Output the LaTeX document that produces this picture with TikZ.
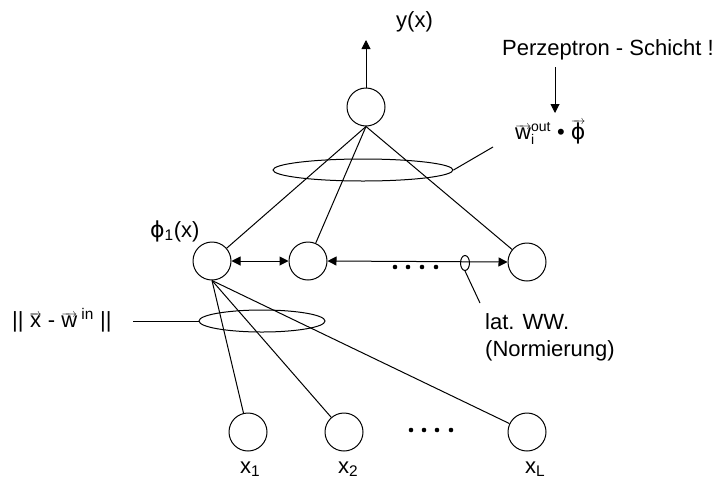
\documentclass[tikz,border=0pt]{standalone}
\usepackage{fontspec}
\setmainfont{Liberation Sans}
\newfontfamily\greekfont{DejaVu Sans}
\usetikzlibrary{arrows.meta,shapes.geometric}

% vector arrow over a text glyph: a small arrow set close above the letter
\newcommand\vecover[1]{\leavevmode\vbox{\offinterlineskip
  \ialign{##\crcr{\fontsize{13}{13}\selectfont\rightarrowfill}\crcr
  \noalign{\kern-2.5pt}\hfil#1\hfil\crcr}}}
% straight phi (circle with vertical stroke)
\newcommand\phisym{{\greekfont\char"03D5}}
% stacked super- and subscript in text size
\newcommand\supsub[2]{$^{\hbox{\fontsize{14}{14}\selectfont #1}}_{\hbox{\fontsize{14}{14}\selectfont #2}}$}

\begin{document}
\begin{tikzpicture}[x=1pt,y=-1pt,
  every node/.style={font=\fontsize{22}{26}\selectfont},
  neuron/.style={circle,draw,line width=1pt,minimum size=38pt,inner sep=0pt},
  ring/.style={ellipse,draw,line width=1pt,inner sep=0pt},
  conn/.style={line width=1pt},
  tipped/.style={line width=1pt,-{Triangle[length=9pt,width=9pt]}},
  bitipped/.style={line width=1pt,{Triangle[length=9pt,width=9pt]}-{Triangle[length=9pt,width=9pt]}},
  txt/.style={inner sep=0pt,anchor=base west}]

\useasboundingbox (0,0) rectangle (725,480);

% neurons
\node[neuron] (out) at (366,107) {};
\node[neuron] (h1) at (212,261) {};
\node[neuron] (h2) at (308,261) {};
\node[neuron] (h3) at (527,262) {};
\node[neuron] (in1) at (248,432) {};
\node[neuron] (in2) at (344,432) {};
\node[neuron] (inL) at (527,432) {};

% weight groupings
\node[ring,minimum width=180pt,minimum height=22pt] (wout) at (363,170) {};
\node[ring,minimum width=126pt,minimum height=22pt] (win) at (262,321) {};
\node[ring,minimum width=9pt,minimum height=15pt] (lat) at (465,263) {};

% free ends
\coordinate (ytip) at (366,40);
\coordinate (ptop) at (555,67);
\coordinate (pbot) at (555,113);
\coordinate (woutend) at (493,147);
\coordinate (winend) at (133,321);
\coordinate (latend) at (480,303);

% output connections
\draw[tipped] (out.north) -- (ytip);
\draw[conn] (out.south) -- (h1);
\draw[conn] (out.south) -- (h2);
\draw[conn] (out.south) -- (h3);

% input connections
\draw[conn] (h1.south) -- (in1);
\draw[conn] (h1.south) -- (in2);
\draw[conn] (h1.south) -- (inL);

% lateral interaction
\draw[bitipped] (h1.east) -- (h2.west);
\draw[bitipped] (h2.east) -- (h3.west);

% annotation lines
\draw[tipped] (ptop) -- (pbot);
\draw[conn] (wout.east) -- (woutend);
\draw[conn] (winend) -- (win.west);
\draw[conn] (lat.south) -- (latend);

% dots
\foreach \x in {395,408,422,436} \fill (\x,267) circle[radius=2.3pt];
\foreach \x in {411,424,437,451} \fill (\x,430) circle[radius=2.3pt];

% labels
\node[txt] (ylab) at (396,27) {y(x)};
\node[txt] (perz) at (502,55) {Perzeptron - Schicht !};
\node[txt] (woutlab) at (515,139) {\vecover{w}\supsub{out}{i} \textbullet\ \vecover{\phisym}};
\node[txt] (philab) at (150,237) {\phisym\textsubscript{1}(x)};
\node[txt] (winlab) at (12,327) {|| \vecover{x} - \vecover{w}\textsuperscript{ in} ||};
\node[txt] (latlab) at (485,329) {lat. WW.};
\node[txt] (normlab) at (485,356) {(Normierung)};
\node[txt] (x1lab) at (240,473) {x\textsubscript{1}};
\node[txt] (x2lab) at (338,473) {x\textsubscript{2}};
\node[txt] (xLlab) at (525,473) {x\textsubscript{L}};
\end{tikzpicture}
\end{document}
